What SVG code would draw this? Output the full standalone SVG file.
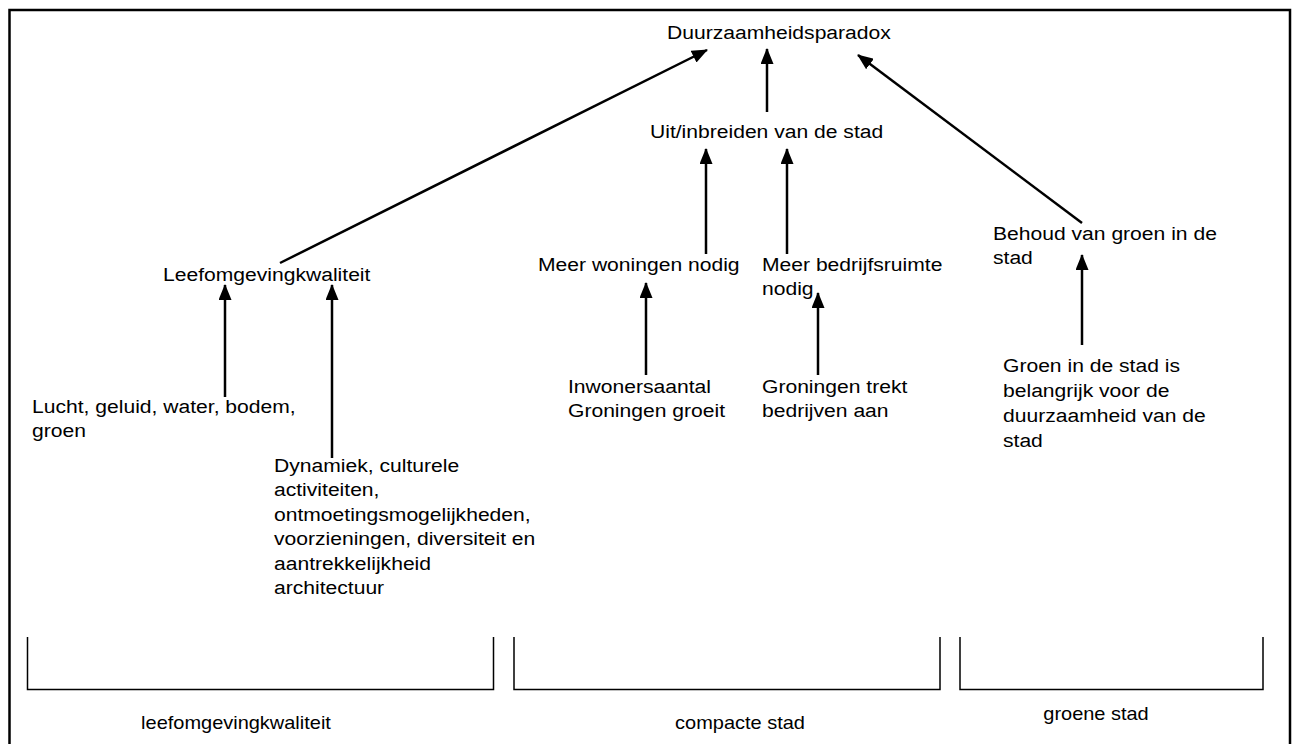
<svg xmlns="http://www.w3.org/2000/svg" width="1292" height="744" viewBox="0 0 1292 744">
<style>
.t{font-family:"Liberation Sans",Arial,sans-serif;font-size:19px;fill:#000}
.b{font-family:"Liberation Sans",Arial,sans-serif;font-size:18px;fill:#000;text-anchor:middle}
.c{stroke:#000;stroke-width:2.5;fill:none}
.br{stroke:#000;stroke-width:1.5;fill:none}
.fr{stroke:#000;stroke-width:2.5;fill:none}
</style>
<defs>
<marker id="ah" markerUnits="userSpaceOnUse" markerWidth="16" markerHeight="13" refX="15" refY="6.5" orient="auto">
<path d="M0,0 L16,6.5 L0,13 z" fill="#000"/>
</marker>
</defs>
<rect width="1292" height="744" fill="#fff"/>
<path class="fr" d="M9.5,746 V10 H1290 V746"/>
<g id="brackets">
<path class="br" d="M27.5,637 V689.5 H493.5 V637"/>
<path class="br" d="M514,637 V689.5 H940 V637"/>
<path class="br" d="M960,637 V689.5 H1263 V637"/>
</g>
<g id="connectors">
<line class="c" x1="280" y1="263" x2="707" y2="50" marker-end="url(#ah)"/>
<line class="c" x1="767" y1="112" x2="767" y2="49" marker-end="url(#ah)"/>
<line class="c" x1="1082" y1="223" x2="858" y2="55" marker-end="url(#ah)"/>
<line class="c" x1="706" y1="254" x2="706" y2="149" marker-end="url(#ah)"/>
<line class="c" x1="787" y1="254" x2="787" y2="149" marker-end="url(#ah)"/>
<line class="c" x1="646" y1="375" x2="646" y2="283" marker-end="url(#ah)"/>
<line class="c" x1="818" y1="375" x2="818" y2="293" marker-end="url(#ah)"/>
<line class="c" x1="1082" y1="345" x2="1082" y2="255" marker-end="url(#ah)"/>
<line class="c" x1="225" y1="397" x2="225" y2="285" marker-end="url(#ah)"/>
<line class="c" x1="332" y1="458" x2="332" y2="285" marker-end="url(#ah)"/>
</g>
<g id="n-paradox"><text class="t" transform="translate(667 39) scale(1.11 1)">Duurzaamheidsparadox</text></g>
<g id="n-uitinbreiden"><text class="t" transform="translate(650 138) scale(1.11 1)">Uit/inbreiden van de stad</text></g>
<g id="n-leefomgeving"><text class="t" transform="translate(163 281) scale(1.11 1)">Leefomgevingkwaliteit</text></g>
<g id="n-woningen"><text class="t" transform="translate(538 271) scale(1.11 1)">Meer woningen nodig</text></g>
<g id="n-bedrijfsruimte"><text class="t" transform="translate(762 271) scale(1.11 1)"><tspan x="0" y="0">Meer bedrijfsruimte</tspan><tspan x="0" y="24.5">nodig</tspan></text></g>
<g id="n-behoud"><text class="t" transform="translate(993 240) scale(1.11 1)"><tspan x="0" y="0">Behoud van groen in de</tspan><tspan x="0" y="24.5">stad</tspan></text></g>
<g id="n-lucht"><text class="t" transform="translate(32 413) scale(1.11 1)"><tspan x="0" y="0">Lucht, geluid, water, bodem,</tspan><tspan x="0" y="24.5">groen</tspan></text></g>
<g id="n-inwoners"><text class="t" transform="translate(568 393) scale(1.11 1)"><tspan x="0" y="0">Inwonersaantal</tspan><tspan x="0" y="24.5">Groningen groeit</tspan></text></g>
<g id="n-bedrijven"><text class="t" transform="translate(762 393) scale(1.11 1)"><tspan x="0" y="0">Groningen trekt</tspan><tspan x="0" y="24.5">bedrijven aan</tspan></text></g>
<g id="n-groen"><text class="t" transform="translate(1003 372) scale(1.11 1)"><tspan x="0" y="0">Groen in de stad is</tspan><tspan x="0" y="25">belangrijk voor de</tspan><tspan x="0" y="50">duurzaamheid van de</tspan><tspan x="0" y="75">stad</tspan></text></g>
<g id="n-dynamiek"><text class="t" transform="translate(274 472) scale(1.11 1)"><tspan x="0" y="0">Dynamiek, culturele</tspan><tspan x="0" y="24.5">activiteiten,</tspan><tspan x="0" y="49">ontmoetingsmogelijkheden,</tspan><tspan x="0" y="73.5">voorzieningen, diversiteit en</tspan><tspan x="0" y="98">aantrekkelijkheid</tspan><tspan x="0" y="122.5">architectuur</tspan></text></g>
<g id="n-label-leef"><text class="b" transform="translate(236 729) scale(1.11 1)">leefomgevingkwaliteit</text></g>
<g id="n-label-compact"><text class="b" transform="translate(740 729) scale(1.11 1)">compacte stad</text></g>
<g id="n-label-groen"><text class="b" transform="translate(1096 720) scale(1.11 1)">groene stad</text></g>
</svg>
